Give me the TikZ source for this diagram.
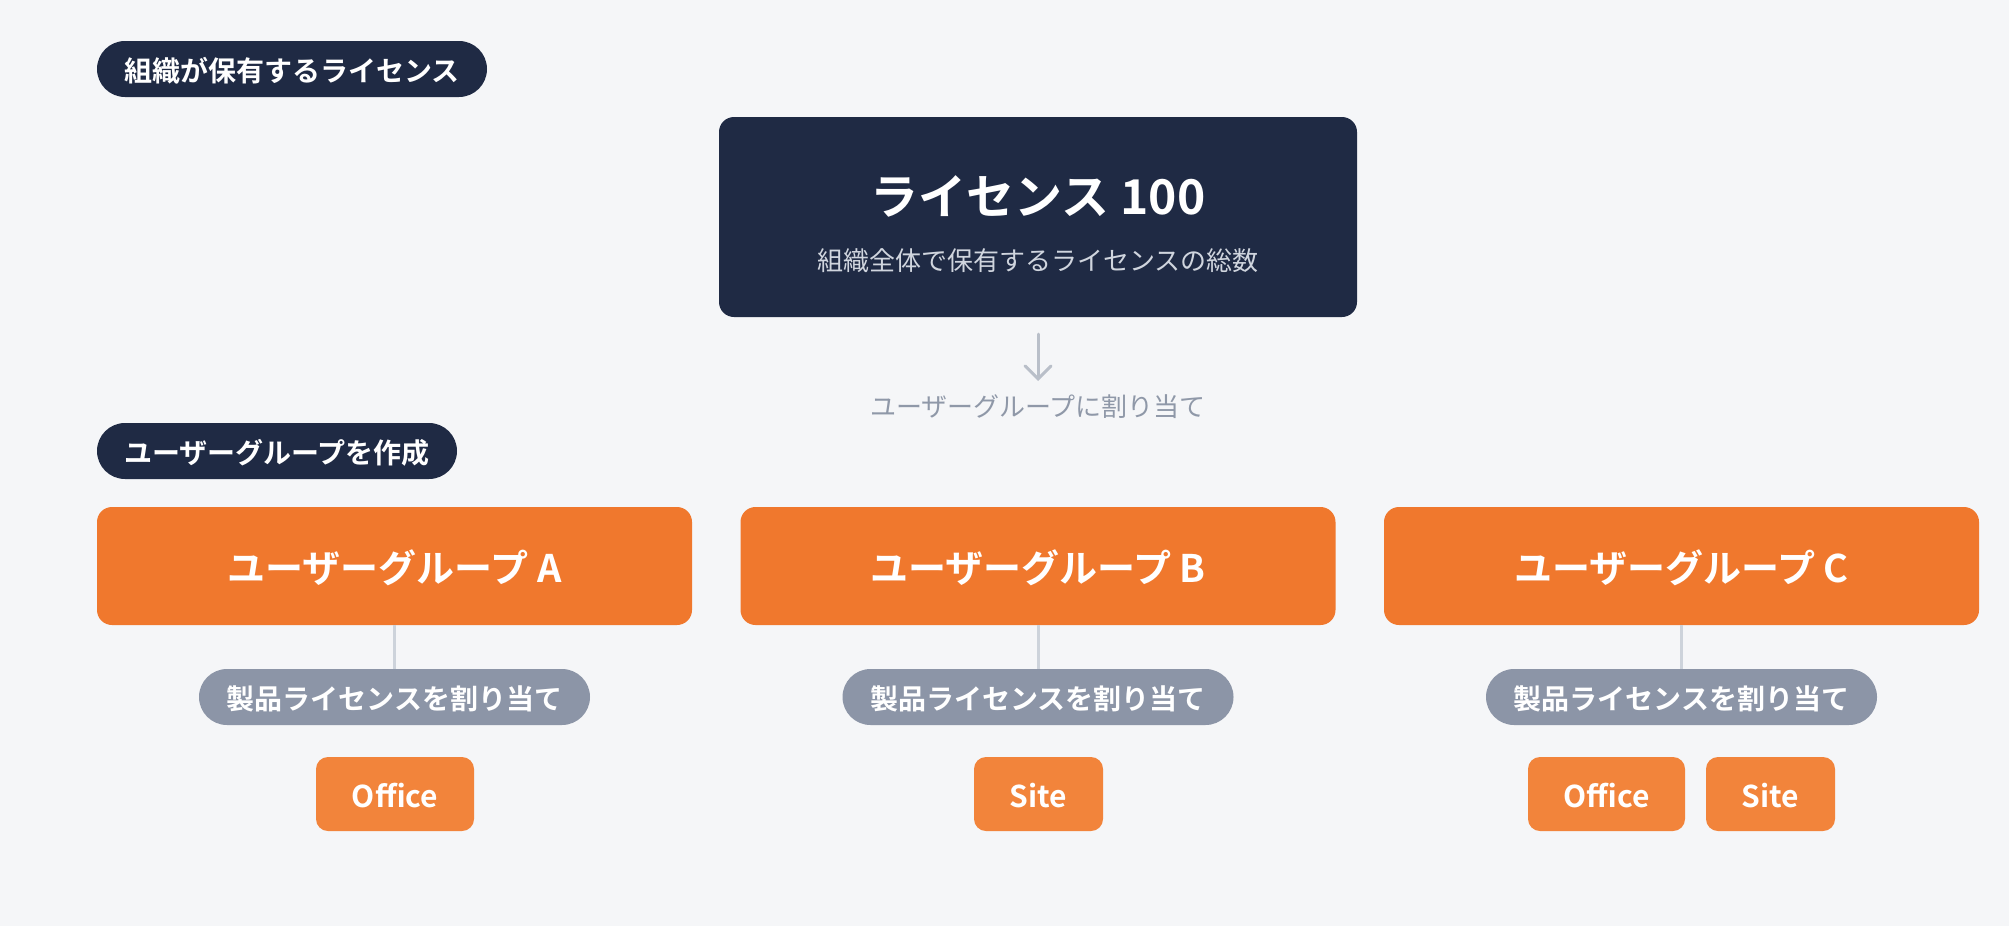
\documentclass[tikz,border=0pt]{standalone}
\usepackage{fontspec}
\setmainfont{Noto Sans CJK JP}[BoldFont={Noto Sans CJK JP Bold}]
\usetikzlibrary{arrows.meta}
\definecolor{bg}{HTML}{F5F6F8}
\definecolor{navy}{HTML}{1F2A44}
\definecolor{grporange}{HTML}{F0782D}
\definecolor{prodorange}{HTML}{F2843B}
\definecolor{pillgray}{HTML}{8C95A7}
\definecolor{linegray}{HTML}{CDD3DB}
\definecolor{arrowgray}{HTML}{B9BFC9}
\definecolor{labelgray}{HTML}{8F98A8}
\definecolor{subgray}{HTML}{D0D5DE}
\newcommand{\fs}[1]{\fontsize{#1}{#1}\selectfont}
\begin{document}
\begin{tikzpicture}[x=1pt,y=-1pt,
  headpill/.style={fill=navy,text=white,rounded corners=28pt,minimum height=56pt,inner sep=0pt,font=\fs{28}\bfseries,text height=32.5pt,text depth=8.1pt},
  groupbox/.style={fill=grporange,text=white,rounded corners=15pt,minimum width=595pt,minimum height=118pt,inner sep=0pt,font=\fs{38}\bfseries,text height=44.1pt,text depth=10.9pt},
  assignpill/.style={fill=pillgray,text=white,rounded corners=28pt,minimum width=391pt,minimum height=56pt,inner sep=0pt,font=\fs{28}\bfseries,text height=32.5pt,text depth=8.1pt},
  prodbox/.style={fill=prodorange,text=white,rounded corners=12pt,minimum height=74pt,inner sep=0pt,font=\fs{30}\bfseries,text height=34.8pt,text depth=8.6pt},
  conn/.style={draw=linegray,line width=3pt}
]
\useasboundingbox[fill=bg] (0,0) rectangle (2009,926);

% header pills
\node[headpill,minimum width=390pt] (hp1) at (292,69) {組織が保有するライセンス};
\node[headpill,minimum width=360pt] (hp2) at (277,451) {ユーザーグループを作成};

% main box
\node[fill=navy,rounded corners=15pt,minimum width=638pt,minimum height=200pt,inner sep=0pt] (main) at (1038,217) {};
\node[text=white,font=\fs{48}\bfseries,inner sep=0pt] (title) at (1038,196) {ライセンス 100};
\node[text=subgray,font=\fs{26},inner sep=0pt,text height=30.2pt,text depth=7.5pt] (sub) at (1038,259) {組織全体で保有するライセンスの総数};

% arrow and label
\coordinate (arrs) at (1038,334);
\coordinate (arre) at (1038,381);
\draw[arrowgray,line width=3pt,line cap=round,-{Straight Barb[length=13pt,width=26pt,line cap=round]}] (arrs) -- (arre);
\node[text=labelgray,font=\fs{26},inner sep=0pt,text height=30.2pt,text depth=7.5pt] (lbl) at (1038,405) {ユーザーグループに割り当て};

% groups
\node[groupbox] (gA) at (394.5,566) {ユーザーグループ A};
\node[groupbox] (gB) at (1038,566) {ユーザーグループ B};
\node[groupbox] (gC) at (1681.5,566) {ユーザーグループ C};

\node[assignpill] (pA) at (394.5,697) {製品ライセンスを割り当て};
\node[assignpill] (pB) at (1038,697) {製品ライセンスを割り当て};
\node[assignpill] (pC) at (1681.5,697) {製品ライセンスを割り当て};

\draw[conn] (gA.south) -- (pA.north);
\draw[conn] (gB.south) -- (pB.north);
\draw[conn] (gC.south) -- (pC.north);

% products
\node[prodbox,minimum width=158pt] (oA) at (395,794) {Office};
\node[prodbox,minimum width=129pt] (sB) at (1038.5,794) {Site};
\node[prodbox,minimum width=157pt] (oC) at (1606.5,794) {Office};
\node[prodbox,minimum width=129pt] (sC) at (1770.5,794) {Site};
\end{tikzpicture}
\end{document}
